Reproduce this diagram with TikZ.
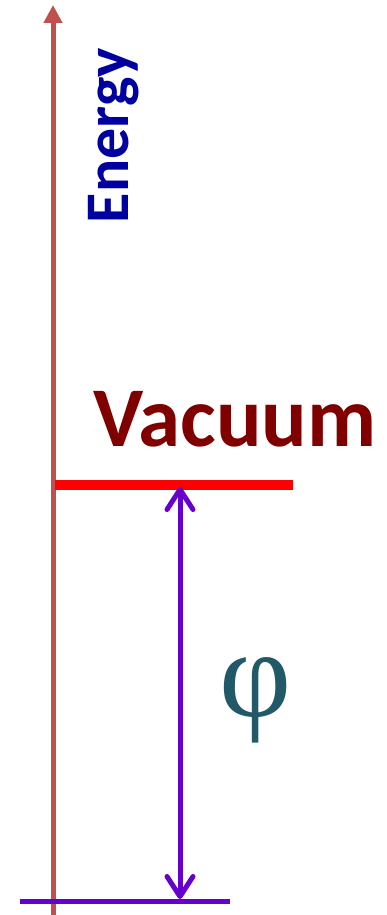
\documentclass[tikz,border=0pt]{standalone}
\usepackage{fontspec}
\setmainfont{Carlito}
\newfontfamily\phifont{Liberation Serif}
\usetikzlibrary{arrows.meta}
\definecolor{axisred}{RGB}{192,80,77}
\definecolor{energyblue}{RGB}{0,0,160}
\definecolor{vacred}{RGB}{128,0,0}
\definecolor{arrowpurple}{RGB}{102,0,204}
\definecolor{phiteal}{RGB}{33,89,104}
\begin{document}
\begin{tikzpicture}[x=1pt,y=-1pt,
  axisline/.style={draw=axisred,line width=5pt,-{Triangle[length=18pt,width=18pt]}},
  purpleline/.style={draw=arrowpurple,line width=5pt},
  purplearrow/.style={draw=arrowpurple,line width=5pt,line cap=round,
    {Straight Barb[length=20pt,width=26pt,line cap=round,line join=round]}-{Straight Barb[length=20pt,width=26pt,line cap=round,line join=round]}},
  txt/.style={inner sep=0pt,outer sep=0pt}]
\useasboundingbox (0,0) rectangle (386,915);
% axis
\coordinate (axb) at (53,915);
\coordinate (axt) at (53,5);
\draw[axisline] (axb) -- (axt);
% Energy label
\node[txt,rotate=90,anchor=base west,text=energyblue,font=\fontsize{62}{62}\selectfont\bfseries] (energy) at (128,223) {Energy};
% vacuum level
\coordinate (vl) at (55,485);
\coordinate (vr) at (293,485);
\draw[draw=red,line width=10pt] (vl) -- (vr);
\node[txt,anchor=base west,text=vacred,font=\fontsize{85}{85}\selectfont\bfseries] (vac) at (93,446) {Vacuum};
% bottom level
\coordinate (bl) at (20,901);
\coordinate (br) at (230,901);
\draw[purpleline] (bl) -- (br);
% work function arrow
\coordinate (at) at (180,487);
\coordinate (ab) at (180,899);
\draw[purplearrow] (ab) -- (at);
\node[txt,text=phiteal,font=\phifont\fontsize{125}{125}\selectfont] (phi) at (256,700) {φ};
\end{tikzpicture}
\end{document}
